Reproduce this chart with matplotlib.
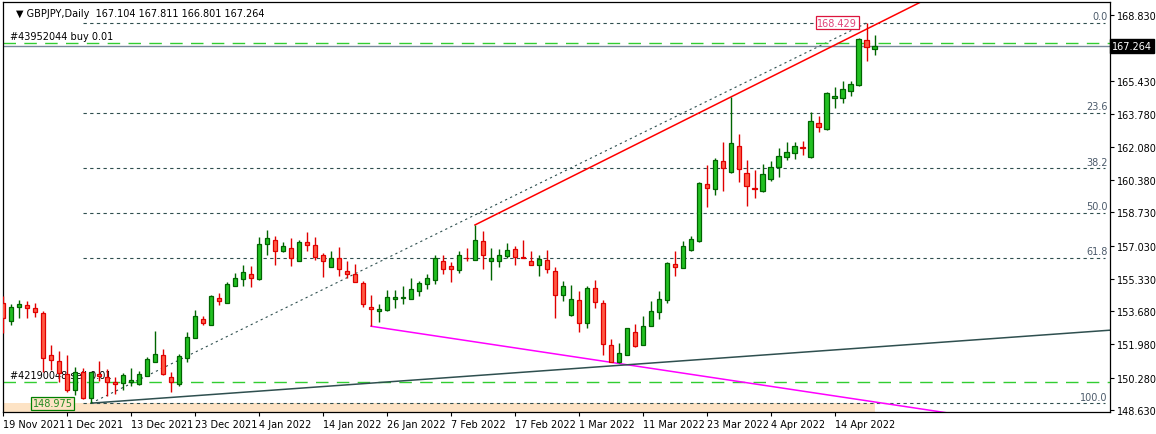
import matplotlib
matplotlib.use("Agg")
import matplotlib.pyplot as plt
import pandas as pd
from matplotlib.patches import Rectangle

dates = pd.bdate_range("2021-11-19", periods=110)
opens = [154.10,153.16,153.88,153.98,153.83,153.57,151.44,151.12,150.47,149.66,150.56,149.24,150.47,150.30,150.04,149.99,150.06,149.97,150.38,151.10,
151.44,150.31,149.97,151.30,152.29,153.28,152.97,154.34,154.08,154.98,155.31,155.56,155.31,157.10,157.31,156.74,156.93,156.23,157.22,157.05,
156.54,155.92,156.39,155.74,155.56,155.11,153.88,153.67,153.72,154.29,154.34,154.29,154.70,155.06,155.26,156.23,155.97,155.77,156.40,156.32,
157.25,156.23,156.23,156.49,156.85,156.44,156.23,156.03,156.28,155.72,154.49,153.50,154.24,153.06,154.85,154.08,151.93,151.07,151.42,152.60,
151.93,152.91,153.62,154.24,156.08,155.87,156.80,157.25,160.17,159.91,161.35,160.78,162.12,160.73,159.98,159.81,160.43,161.04,161.55,161.76,
162.06,161.55,163.29,162.98,164.57,164.57,164.93,165.24,167.54,167.104]
highs = [154.47,154.05,154.25,154.20,154.10,153.69,151.95,151.64,151.44,150.83,150.77,150.58,151.13,150.72,150.31,150.52,150.77,150.64,151.35,152.65,
151.75,150.56,151.49,152.63,153.75,153.45,154.49,154.61,155.16,155.62,156.04,156.01,157.46,157.83,157.54,157.20,157.43,157.32,157.73,157.46,
156.66,156.76,156.95,156.25,156.08,155.24,154.51,154.03,154.76,154.76,154.95,155.38,155.23,155.57,156.54,156.54,156.18,156.74,156.90,158.09,
157.76,156.90,156.85,157.15,157.00,157.31,156.74,156.54,156.80,155.92,155.21,155.00,154.70,154.95,155.26,154.25,152.24,152.04,152.80,153.01,
153.42,154.19,154.70,156.18,156.74,157.25,157.51,160.29,161.16,161.50,162.32,164.65,162.74,161.40,160.89,161.19,161.35,162.01,162.32,162.32,
162.37,163.85,163.65,164.87,165.13,165.44,165.44,167.64,168.429,167.811]
lows = [152.55,152.97,153.33,153.33,153.38,150.57,150.67,150.06,149.55,149.41,149.19,148.975,150.12,149.36,149.46,149.65,149.87,149.92,150.36,151.08,
150.42,149.53,149.87,151.10,152.29,152.99,152.97,154.01,154.08,154.97,154.98,154.90,155.27,156.57,156.06,156.71,155.97,156.23,156.77,156.32,
155.45,155.92,155.49,155.39,155.16,153.90,152.91,153.11,153.67,153.83,154.06,154.29,154.47,154.80,155.06,155.56,155.16,155.62,156.23,156.28,
155.85,155.29,155.96,156.39,156.06,156.39,156.03,155.50,155.62,153.35,154.19,153.45,152.63,152.80,153.86,151.45,151.07,151.03,151.42,151.86,
151.93,152.91,153.26,154.11,155.46,155.87,156.76,157.20,159.03,159.61,159.84,160.73,160.27,159.05,159.45,159.76,160.32,160.53,161.40,161.45,
161.65,161.50,162.83,162.93,164.06,164.31,164.67,165.18,166.46,166.801]
closes = [153.32,153.88,154.05,153.83,153.62,151.27,151.17,150.50,149.66,150.56,149.24,150.56,150.38,150.07,149.97,150.42,150.16,150.45,151.22,151.47,
150.47,150.06,151.39,152.36,153.42,153.09,154.44,154.19,155.06,155.36,155.67,155.39,157.10,157.41,156.77,157.03,156.40,157.22,157.05,156.44,
156.23,156.39,155.82,155.60,155.16,154.06,153.78,153.79,154.39,154.39,154.39,154.80,155.11,155.36,156.39,155.82,155.82,156.54,156.39,157.31,
156.54,156.39,156.54,156.80,156.44,156.39,156.03,156.33,155.82,154.52,154.95,154.29,153.09,154.85,154.13,151.99,151.10,151.52,152.80,151.91,
152.91,153.67,154.29,156.13,155.92,157.00,157.36,160.24,159.97,161.40,160.99,162.27,160.94,160.07,159.95,160.68,161.04,161.60,161.81,162.12,
162.01,163.39,163.09,164.83,164.67,165.03,165.29,167.59,167.18,167.264]

fib_low, fib_high = 148.975, 168.429
fib_low_idx, fib_high_idx = 11, 108
fib_levels = [0.0, 23.6, 38.2, 50.0, 61.8, 100.0]
red_anchor = (59, 158.09); red_slope = 0.2046
mag_anchor = (46, 152.91); mag_slope = -0.0615
teal_anchor = (11, 148.975); teal_slope = 0.0293
buy_level, sell_level, bid = 167.40, 150.06, 167.264
yticks = [168.830,165.430,163.780,162.080,160.380,158.730,157.030,155.330,153.680,151.980,150.280,148.630]
xtick_idx = [0,8,16,24,32,40,48,56,64,72,80,88,96,104]
xtick_lbl = ["19 Nov 2021","1 Dec 2021","13 Dec 2021","23 Dec 2021","4 Jan 2022","14 Jan 2022","26 Jan 2022",
             "7 Feb 2022","17 Feb 2022","1 Mar 2022","11 Mar 2022","23 Mar 2022","4 Apr 2022","14 Apr 2022"]

W, H = 1156, 435
fig = plt.figure(figsize=(W/100, H/100), dpi=100)
ax = fig.add_axes([2.7/W, (H-413)/H, (1110-2.7)/W, 410/H])
ylo, yhi = 148.523, 169.495
xlo, xhi = -0.05, 138.4
ax.set_xlim(xlo, xhi); ax.set_ylim(ylo, yhi)

DS = "#2F4F4F"
FS = 7
ax.add_patch(Rectangle((xlo, ylo), 109 - xlo, fib_low - ylo, facecolor="#FDE3C5", edgecolor="none", zorder=0))

for lv in fib_levels:
    p = fib_high - lv/100*(fib_high - fib_low)
    ax.plot([10, 137.75], [p, p], color=DS, lw=0.8, ls=(0, (3, 3)), zorder=1)
    ax.text(138.1, p + 0.08, f"{lv:.1f}", ha="right", va="bottom", fontsize=FS, color="#4B5A6A", zorder=3)
ax.plot([fib_low_idx, fib_high_idx], [fib_low, fib_high], color=DS, lw=0.8, ls=(0, (2, 3)), zorder=1)

def ray(anchor, slope, **kw):
    x0, y0 = anchor
    ax.plot([x0, 140], [y0, y0 + slope*(140 - x0)], **kw)
ray(red_anchor, red_slope, color="red", lw=1.1, zorder=2)
ray(mag_anchor, mag_slope, color="magenta", lw=1.1, zorder=2)
ray(teal_anchor, teal_slope, color=DS, lw=1.1, zorder=2)

ax.axhline(buy_level, color="#32CD32", lw=1.0, ls=(0, (9, 6)), zorder=1)
ax.axhline(sell_level, color="#32CD32", lw=1.0, ls=(0, (9, 6)), zorder=1)
ax.axhline(bid, color="#778899", lw=1.0, zorder=1)
ax.text(0.9, buy_level + 0.12, "#43952044 buy 0.01", fontsize=FS, color="black", va="bottom", zorder=1)
ax.text(0.9, sell_level + 0.12, "#42190048 sell 0.01", fontsize=FS, color="black", va="bottom", zorder=1)

for i in range(len(opens)):
    o, h, l, c = opens[i], highs[i], lows[i], closes[i]
    up = c >= o
    ec = "#006400" if up else "#E00000"
    fc = "#22C022" if up else "#FF5A45"
    ax.plot([i, i], [l, h], color=ec, lw=1.0, zorder=4, solid_capstyle="butt")
    bot, top = min(o, c), max(o, c)
    hgt = max(top - bot, 0.03)
    ax.add_patch(Rectangle((i - 0.3, bot), 0.6, hgt, facecolor=fc, edgecolor=ec, lw=0.9, zorder=5))

ax.text(106.8, fib_high, "168.429", ha="right", va="center", fontsize=FS, color="#E0457B", zorder=6,
        bbox=dict(facecolor="white", edgecolor="crimson", boxstyle="square,pad=0.15", lw=0.9))
ax.text(8.7, fib_low, "148.975", ha="right", va="center", fontsize=FS, color="#228B22", zorder=6,
        bbox=dict(facecolor="#FDE3C5", edgecolor="green", boxstyle="square,pad=0.15", lw=0.9))

ax.text(0.012, 0.985, "\u25bc GBPJPY,Daily  167.104 167.811 166.801 167.264", transform=ax.transAxes,
        fontsize=FS, va="top", ha="left")

ax.yaxis.tick_right()
ax.set_yticks(yticks)
ax.set_yticklabels([f"{v:.3f}" for v in yticks], fontsize=FS)
ax.tick_params(axis="y", length=3, pad=2)
ax.set_xticks(xtick_idx)
ax.set_xticklabels(xtick_lbl, fontsize=FS, ha="left")
ax.tick_params(axis="x", length=3, pad=2)
for s in ax.spines.values():
    s.set_linewidth(0.9)
ax.text(1.002, (bid - ylo)/(yhi - ylo), "167.264", transform=ax.transAxes, fontsize=FS, color="white",
        va="center", ha="left", zorder=10, bbox=dict(facecolor="black", edgecolor="black", boxstyle="square,pad=0.2"))
fig.savefig("out.png", dpi=100)
